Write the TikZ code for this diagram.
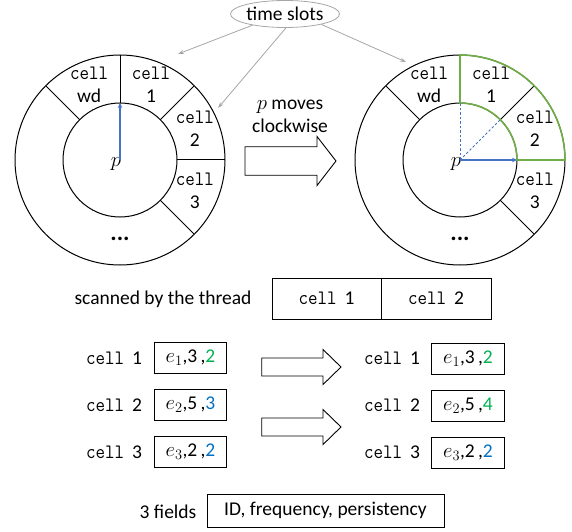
\documentclass[tikz,border=0pt]{standalone}
\usepackage{fontspec}
\setmainfont{Carlito}
\usetikzlibrary{arrows.meta,shapes.geometric,calc}
\definecolor{ringgreen}{HTML}{70AD47}
\definecolor{ptrblue}{HTML}{4472C4}
\definecolor{numgreen}{HTML}{00B050}
\definecolor{numblue}{HTML}{0070C0}
\definecolor{slotgray}{HTML}{A6A6A6}
% the word "cell" in a narrowed typewriter face
\newcommand\cellword{\scalebox{0.9}[1]{\fontsize{20.5}{22}\selectfont\ttfamily cell}}
\newcommand\cellname[1]{\cellword\hspace{8pt}#1}
% hollow block arrow: start x, head base x, tip x, centre y, half body, half head
\newcommand\hollowarrow[6]{%
  \draw[blockarrow] (#1,#4+#5) -- (#2,#4+#5) -- (#2,#4+#6) -- (#3,#4)
    -- (#2,#4-#6) -- (#2,#4-#5) -- (#1,#4-#5) -- cycle;}
\begin{document}
\begin{tikzpicture}[x=1pt,y=1pt,
  font=\fontsize{19.5}{23}\selectfont,
  ring/.style={draw=black,line width=1pt},
  sector/.style={draw=ringgreen,line width=1.6pt},
  ringlabel/.style={align=center,inner sep=0pt},
  dots/.style={inner sep=0pt,font=\fontsize{24}{24}\selectfont\bfseries},
  pointer/.style={draw=ptrblue,line width=1.2pt,-{Stealth[length=5pt,width=4.5pt]}},
  guide/.style={draw=ptrblue,line width=0.8pt,dashed,dash pattern=on 2.5pt off 2pt},
  slotarrow/.style={draw=slotgray,line width=0.8pt,-{Stealth[length=6pt,width=4pt]}},
  blockarrow/.style={draw=black,line width=0.9pt,fill=white},
  cellbox/.style={draw=black,line width=0.9pt,minimum width=72.5pt,minimum height=31.5pt,inner sep=0pt},
  rowlabel/.style={inner sep=0pt},
  ]
\useasboundingbox (0,0) rectangle (572,531);

% ---------- ring before the move ----------
\coordinate (L) at (120,371);
\draw[ring] (L) circle[radius=57];
\draw[ring] (L) circle[radius=105];
\foreach \a in {135,90,45,0,-45}
  \draw[ring] (L) ++(\a:57) -- ++(\a:48);
\node[ringlabel] (lwd) at ($(L)+(112.5:81)$) {\cellword\\wd};
\node[ringlabel] (l1) at ($(L)+(67.5:81)$) {\cellword\\1};
\node[ringlabel] (l2) at ($(L)+(22.5:81)$) {\cellword\\2};
\node[ringlabel] (l3) at ($(L)+(-22.5:81)$) {\cellword\\3};
\node[dots] (ldots) at ($(L)+(0,-79)$) {...};
\node[inner sep=0pt] (lp) at ($(L)+(-4,-4)$) {$p$};
\coordinate (lhand) at ($(L)+(90:57)$);
\draw[pointer] (L) -- (lhand);

% ---------- ring after the move ----------
\coordinate (R) at (460,371);
\draw[ring] (R) circle[radius=57];
\draw[ring] (R) circle[radius=105];
\foreach \a in {135,45,-45}
  \draw[ring] (R) ++(\a:57) -- ++(\a:48);
\draw[sector] (R) ++(90:57) -- ++(90:48) arc[start angle=90,end angle=0,radius=105]
  -- ++(180:48) arc[start angle=0,end angle=90,radius=57] -- cycle;
\node[ringlabel] (rwd) at ($(R)+(112.5:81)$) {\cellword\\wd};
\node[ringlabel] (r1) at ($(R)+(67.5:81)$) {\cellword\\1};
\node[ringlabel] (r2) at ($(R)+(22.5:81)$) {\cellword\\2};
\node[ringlabel] (r3) at ($(R)+(-22.5:81)$) {\cellword\\3};
\node[dots] (rdots) at ($(R)+(0,-79)$) {...};
\node[inner sep=0pt] (rp) at ($(R)+(-4,-4)$) {$p$};
\coordinate (rold) at ($(R)+(90:57)$);
\coordinate (rmid) at ($(R)+(45:57)$);
\coordinate (rhand) at ($(R)+(0:57)$);
\draw[guide] (R) -- (rold);
\draw[guide] (R) -- (rmid);
\draw[pointer] (R) -- (rhand);

% ---------- time slots callout ----------
\node[ellipse,draw=slotgray,line width=0.8pt,minimum width=106pt,minimum height=27pt,inner sep=0pt]
  (ts) at (285,517) {time slots};
\coordinate (t1) at (178,477);
\coordinate (t2) at (218,423);
\coordinate (t3) at (406,469);
\draw[slotarrow] (ts.199) -- (t1);
\draw[slotarrow] (ts.274) -- (t2);
\draw[slotarrow] (ts.344) -- (t3);

% ---------- move arrow ----------
\node[align=center,inner sep=0pt] (mv) at (290,415) {$p$ moves\\clockwise};
\hollowarrow{245}{317}{336}{370}{14.2}{24.5}

% ---------- scanned cells ----------
\node[inner sep=0pt] (scan) at (163,232) {scanned by the thread};
\node[draw=black,line width=0.9pt,minimum width=109pt,minimum height=41pt,inner sep=0pt]
  (sc1) at (326.5,232.5) {\cellname{1}};
\node[draw=black,line width=0.9pt,minimum width=110pt,minimum height=41pt,inner sep=0pt]
  (sc2) at (436,232.5) {\cellname{2}};

% ---------- cell contents before ----------
\node[rowlabel] (a1) at (114,173) {\cellname{1}};
\node[rowlabel] (a2) at (114,126) {\cellname{2}};
\node[rowlabel] (a3) at (114,79) {\cellname{3}};
\node[cellbox] (ab1) at (190.5,173) {$e_1$,3\,,\textcolor{numgreen}{2}};
\node[cellbox] (ab2) at (190.5,126) {$e_2$,5\,,\textcolor{numblue}{3}};
\node[cellbox] (ab3) at (190.5,79) {$e_3$,2\,,\textcolor{numblue}{2}};

% ---------- update arrows ----------
\hollowarrow{261.7}{323}{341}{164}{9}{17.5}
\hollowarrow{261.7}{323}{341}{104}{9}{17.5}

% ---------- cell contents after ----------
\node[rowlabel] (b1) at (392,172.5) {\cellname{1}};
\node[rowlabel] (b2) at (392,125.5) {\cellname{2}};
\node[rowlabel] (b3) at (392,78.5) {\cellname{3}};
\node[cellbox] (bb1) at (468,172) {$e_1$,3\,,\textcolor{numgreen}{2}};
\node[cellbox] (bb2) at (468,125) {$e_2$,5\,,\textcolor{numgreen}{4}};
\node[cellbox] (bb3) at (468,78) {$e_3$,2\,,\textcolor{numblue}{2}};

% ---------- field legend ----------
\node[inner sep=0pt] (nf) at (168,19) {3 fields};
\node[draw=black,line width=0.9pt,minimum width=237pt,minimum height=33pt,inner sep=0pt]
  (fields) at (325.5,20.5) {ID, frequency, persistency};
\end{tikzpicture}
\end{document}
